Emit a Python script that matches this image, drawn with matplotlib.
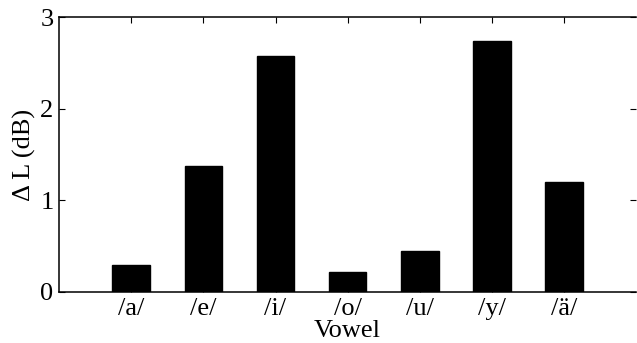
import numpy as np
import matplotlib.pyplot as plt

plt.rcParams['font.family'] = ['Liberation Serif', 'DejaVu Serif']

vowels = ['/a/', '/e/', '/i/', '/o/', '/u/', '/y/', '/ä/']
delta_l = [0.29, 1.38, 2.57, 0.22, 0.45, 2.74, 1.20]

fig = plt.figure(figsize=(6.37, 3.43), dpi=100)
ax = fig.add_axes([0.0926, 0.1487, 0.9064, 0.8017])

x = np.arange(1, len(vowels) + 1)
ax.bar(x, delta_l, width=0.52, color='black', edgecolor='black')

ax.set_xlim(0, 8)
ax.set_ylim(0, 3)
ax.set_xticks(x)
ax.set_xticklabels(vowels)
ax.set_yticks([0, 1, 2, 3])

ax.tick_params(direction='in', top=True, right=True, length=4, width=0.8,
               labelsize=19, pad=4)
ax.tick_params(axis='x', pad=4)
for side in ['left', 'bottom', 'top']:
    ax.spines[side].set_linewidth(1.1)
ax.spines['right'].set_visible(False)

ax.set_xlabel('Vowel', fontsize=19, labelpad=0)
ax.set_ylabel('Δ L (dB)', fontsize=19, labelpad=3)

fig.savefig('out.png', dpi=100)
